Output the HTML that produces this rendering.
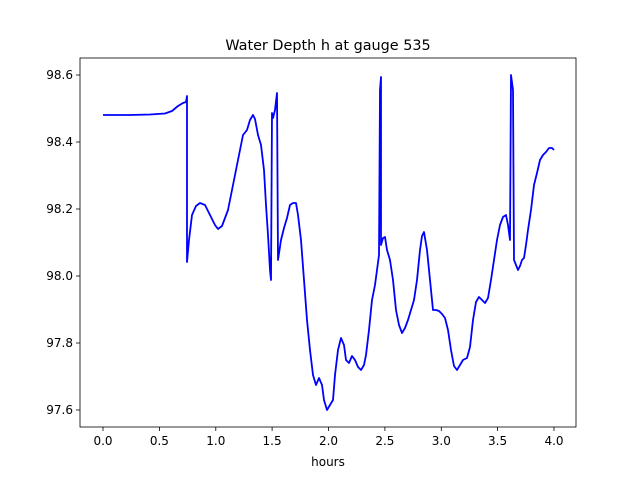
<!DOCTYPE html>
<html><head><meta charset="utf-8"><style>body{margin:0;background:#fff}svg{display:block}text{font-family:"DejaVu Sans","Liberation Sans",sans-serif;fill:#000}</style></head>
<body>
<svg width="640" height="480" viewBox="0 0 640 480" xmlns="http://www.w3.org/2000/svg">
<rect width="640" height="480" fill="#fff"/>
<polyline fill="none" stroke="#0000ff" stroke-width="1.8" stroke-linejoin="round" points="103,115 130,115 150,114.5 165,113.5 172,111 178,106 183,103 186,102 187,96 187,262 189,240 192,215 196,206 200,203 205,205 210,215 215,225 218,229 222,226 228,210 232,190 236,170 240,150 243,135 247,130 250,120 253,115 255,119 258,135 261,145 264,170 266,205 268,235 270,270 271,280 272,113 273,118 275,110 277,93 278,260 281,240 284,228 287,218 290,205 293,203 296,203 298,215 301,240 304,280 307,320 310,350 313,375 316,385 319,378 322,385 324,400 327,410 330,405 333,400 335,375 338,350 341,338 344,345 346,360 349,363 352,356 355,360 358,367 361,370 364,365 366,355 369,330 372,300 375,285 377,270 379,255 380,90 381,77 381,245 383,238 385,237 387,250 390,260 393,280 396,310 399,325 402,333 405,328 408,320 411,310 414,300 417,280 420,250 422,236 424,232 427,250 430,280 433,310 436,310 439,311 442,314 445,318 448,330 451,350 454,366 457,370 460,365 463,360 467,358 470,347 473,320 476,302 479,297 482,300 485,303 488,298 491,280 494,260 497,240 500,225 503,217 506,215 508,225 510,240 511,75 513,90 514,260 516,265 518,270 520,266 522,260 524,258 526,245 528,230 531,210 534,185 537,173 540,160 543,155 546,152 549,148 552,148 554,150"/>
<rect x="80" y="58" width="496" height="369" fill="none" stroke="#000" stroke-width="0.8"/>
<g stroke="#000" stroke-width="0.8">
<line x1="103" y1="427" x2="103" y2="431"/><line x1="159.4" y1="427" x2="159.4" y2="431"/><line x1="215.8" y1="427" x2="215.8" y2="431"/><line x1="272.1" y1="427" x2="272.1" y2="431"/><line x1="328.5" y1="427" x2="328.5" y2="431"/><line x1="384.9" y1="427" x2="384.9" y2="431"/><line x1="441.3" y1="427" x2="441.3" y2="431"/><line x1="497.6" y1="427" x2="497.6" y2="431"/><line x1="554" y1="427" x2="554" y2="431"/>
<line x1="76" y1="75" x2="80" y2="75"/><line x1="76" y1="142" x2="80" y2="142"/><line x1="76" y1="209" x2="80" y2="209"/><line x1="76" y1="276" x2="80" y2="276"/><line x1="76" y1="343" x2="80" y2="343"/><line x1="76" y1="410" x2="80" y2="410"/>
</g>
<g font-size="12" text-anchor="middle">
<text x="103" y="445">0.0</text><text x="159.4" y="445">0.5</text><text x="215.8" y="445">1.0</text><text x="272.1" y="445">1.5</text><text x="328.5" y="445">2.0</text><text x="384.9" y="445">2.5</text><text x="441.3" y="445">3.0</text><text x="497.6" y="445">3.5</text><text x="554" y="445">4.0</text>
<text x="328" y="466">hours</text>
</g>
<g font-size="12" text-anchor="end">
<text x="73" y="79">98.6</text><text x="73" y="146">98.4</text><text x="73" y="213">98.2</text><text x="73" y="280">98.0</text><text x="73" y="347">97.8</text><text x="73" y="414">97.6</text>
</g>
<text x="328" y="50" font-size="14.4" text-anchor="middle">Water Depth h at gauge 535</text>
</svg>
</body></html>
